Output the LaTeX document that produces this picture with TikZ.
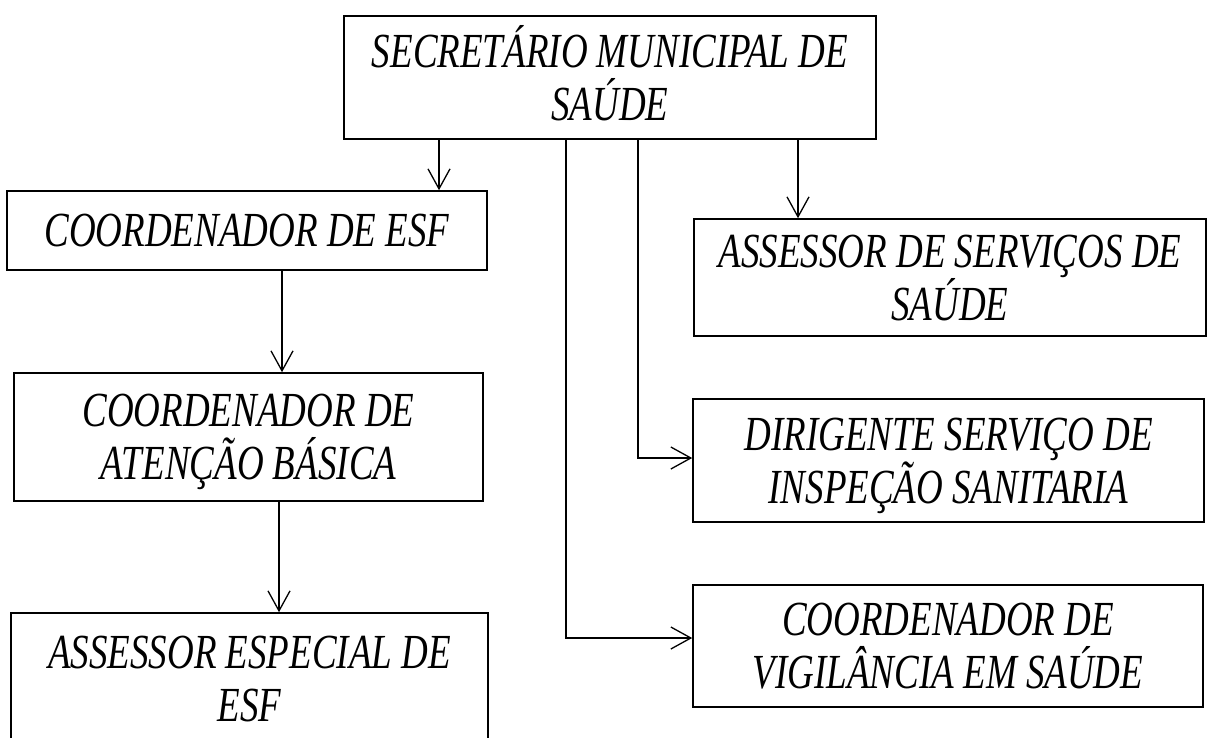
\documentclass[tikz,border=0pt]{standalone}
\usepackage{fontspec}
\newfontfamily\orgfont{Liberation Serif Italic}[FakeStretch=0.755]
\usetikzlibrary{arrows.meta}
\begin{document}
\begin{tikzpicture}[x=1pt,y=-1pt,
  box/.style={draw=black, line width=1.6pt, rectangle, inner sep=0pt, align=center,
    font=\fontsize{49}{53}\selectfont\orgfont, text height=32.4pt, text depth=0pt},
  two/.style={text height=85.4pt, text depth=0pt},
  arr/.style={line width=1.3pt, -{Straight Barb[length=20pt,width=22pt,line width=1.3pt]}}]
\useasboundingbox[fill=white] (0,0) rectangle (1208,737);
\node[box, two, minimum width=532pt, minimum height=123pt] (top) at (610,77.5) {SECRETÁRIO MUNICIPAL DE\\SAÚDE};
\node[box, minimum width=480pt, minimum height=79pt] (esf) at (247,230.5) {COORDENADOR DE ESF};
\node[box, two, minimum width=469pt, minimum height=128pt] (aten) at (248.5,437) {COORDENADOR DE\\ATENÇÃO BÁSICA};
\node[box, two, minimum width=477pt, minimum height=132pt] (esp) at (249.5,679) {ASSESSOR ESPECIAL DE\\ESF};
\node[box, two, minimum width=512pt, minimum height=117pt] (serv) at (950,277.5) {ASSESSOR DE SERVIÇOS DE\\SAÚDE};
\node[box, two, minimum width=511pt, minimum height=123pt] (dir) at (948.5,460.5) {DIRIGENTE SERVIÇO DE\\INSPEÇÃO SANITARIA};
\node[box, two, minimum width=510pt, minimum height=122pt] (vig) at (948,646) {COORDENADOR DE\\VIGILÂNCIA EM SAÚDE};
\coordinate (c1) at (439,0);
\coordinate (c2) at (798,0);
\coordinate (c3) at (638,0);
\coordinate (c4) at (566,0);
\coordinate (h3) at (0,458);
\coordinate (h4) at (0,638);
\coordinate (c5) at (282,0);
\coordinate (c6) at (279,0);
\draw[arr] (top.south -| c1) -- (esf.north -| c1);
\draw[arr] (top.south -| c2) -- (serv.north -| c2);
\draw[arr] (top.south -| c3) |- (dir.west |- h3);
\draw[arr] (top.south -| c4) |- (vig.west |- h4);
\draw[arr] (esf.south -| c5) -- (aten.north -| c5);
\draw[arr] (aten.south -| c6) -- (esp.north -| c6);
\end{tikzpicture}
\end{document}
